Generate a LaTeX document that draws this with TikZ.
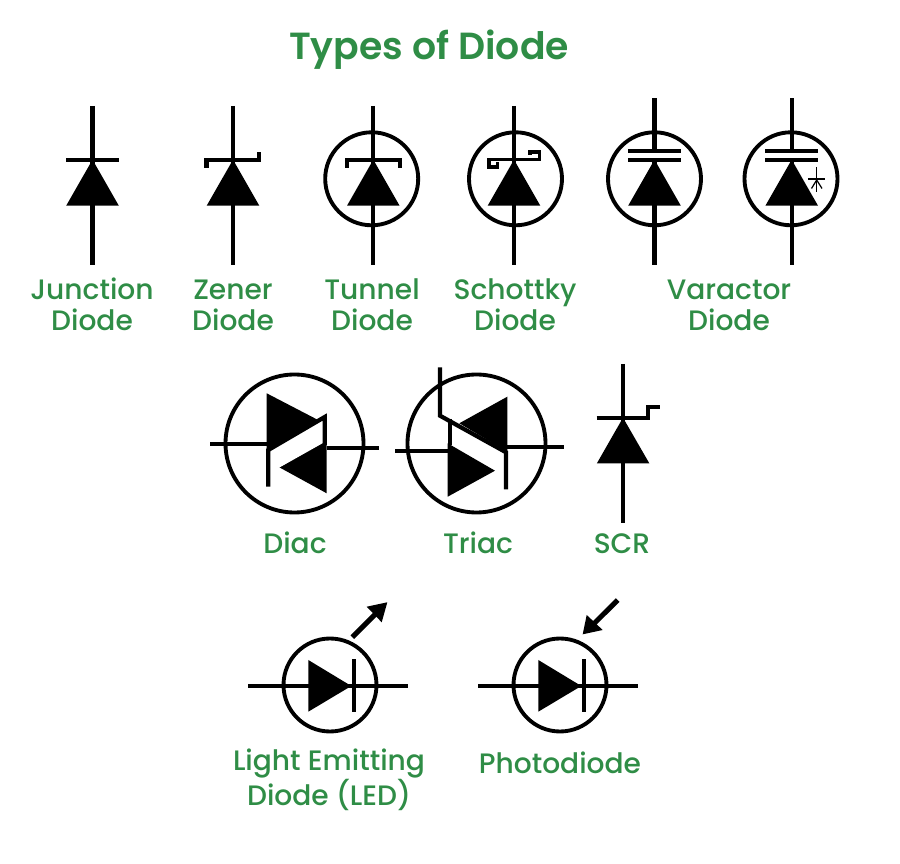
\documentclass[tikz,border=0pt]{standalone}
\usepackage{fontspec}
\setmainfont{Poppins}
\newfontfamily\labelfont{Poppins Medium}
\newfontfamily\titlefont{Poppins SemiBold}
\definecolor{gfggreen}{HTML}{2F8D46}
\tikzset{
wire/.style={line width=2.4pt},
ring/.style={line width=2.2pt},
solid tri/.style={fill=black},
diode label/.style={text=gfggreen, font=\labelfont\fontsize{16pt}{18pt}\selectfont, align=center, anchor=base},
}
\begin{document}
\begin{tikzpicture}[x=0.02cm, y=-0.02cm]

                \useasboundingbox (0,0) rectangle (900,864);

                \node[text=gfggreen, font=\titlefont\fontsize{21.5pt}{24pt}\selectfont] (title) at (429,50) {Types of Diode};

                % stems and triangles of the upright diodes
                \foreach \x/\ytop in {92.5/106, 233/106, 373.3/106, 514/106, 654.5/98.5, 791.7/98.5}{
                    \draw[wire] (\x,\ytop) -- (\x,265);
                    \fill[solid tri] (\x-26.3,205.7) -- (\x,159.7) -- (\x+26.3,205.7) -- cycle;
                }
                % rings of the upright diodes
                \foreach \x in {371.7, 515.5, 654.5, 791}{
                    \draw[ring] (\x,178.8) circle (46.5);
                }

                % junction
                \draw[wire] (66,159.7) -- (119,159.7);
                % zener
                \draw[wire] (206.5,168) -- (206.5,159.7) -- (259,159.7) -- (259,151.7);
                % tunnel
                \draw[wire] (347,168) -- (347,159.7) -- (400,159.7) -- (400,168);
                % schottky
                \draw[wire, line width=1.9pt] (497.5,162.5) -- (497.5,167) -- (489,167) -- (489,159.7) -- (539.5,159.7) -- (539.5,152) -- (530,152) -- (530,155.5);
                % varactor
                \fill[white] (628,152.5) rectangle (681,158);
                \fill[white] (765,152.5) rectangle (818,158);
                \draw[wire] (628,150.7) -- (681,150.7);
                \draw[wire] (628,159.7) -- (681,159.7);
                \draw[wire] (765,150.7) -- (818,150.7);
                \draw[wire] (765,159.7) -- (818,159.7);
                \draw[line width=0.7pt] (808,179) -- (825,179);
                \draw[line width=0.7pt] (816.7,167) -- (816.7,191.7);
                \draw[line width=0.7pt] (811.5,188.5) -- (816.7,180) -- (822,188.5);

                % diac
                \draw[ring] (294.5,443.5) circle (69);
                \draw[wire] (210,444.3) -- (268,444.3);
                \draw[wire] (326.7,448) -- (379,448);
                \fill[solid tri] (266.7,393.3) -- (320,421) -- (266.7,450) -- cycle;
                \fill[solid tri] (326.7,440) -- (279.3,467.3) -- (326.7,493.3) -- cycle;
                \fill[white] (271,450) -- (325,418) -- (323,443) -- (275,470) -- cycle;
                \draw[wire] (268.3,486.7) -- (268.3,450) -- (324.7,417) -- (324.7,445);

                % triac
                \draw[ring] (476.5,443.5) circle (69);
                \draw[wire] (395,451) -- (449,451);
                \draw[wire] (507,447) -- (564,447);
                \fill[solid tri] (507.3,396.7) -- (459.3,423.3) -- (507.3,451.7) -- cycle;
                \fill[solid tri] (447.7,443.3) -- (495,470.7) -- (447.7,496.7) -- cycle;
                \draw[wire] (449.7,419) -- (449.7,445);
                \draw[wire] (440,367.3) -- (440,415.7) -- (506,452.3) -- (506,489.3);

                % scr
                \draw[wire] (623,364) -- (623,523.3);
                \fill[solid tri] (596.9,463.3) -- (623,417.7) -- (649.3,463.3) -- cycle;
                \draw[wire] (596.7,417.7) -- (648.3,417.7) -- (648.3,407.3) -- (660,407.3);

                % led and photodiode
                \foreach \x in {330, 560}{
                    \draw[ring] (\x,685) circle (46.5);
                    \draw[wire] (\x-81.7,686) -- (\x+78.3,686);
                    \fill[solid tri] (\x-21.7,660) -- (\x+21.3,686) -- (\x-21.7,711.7) -- cycle;
                    \draw[wire] (\x+24,659.3) -- (\x+24,712.3);
                }
                \draw[wire, line width=2.9pt] (352.3,637.3) -- (376,613.6);
                \fill[solid tri] (387.3,602.3) -- (366.7,606.7) -- (381.7,622.3) -- cycle;
                \draw[wire, line width=2.9pt] (617.7,600) -- (594,623.6);
                \fill[solid tri] (582.7,634.3) -- (586.7,615) -- (602.7,630) -- cycle;

                % labels
                \node[diode label] (junction) at (92,331) {Junction\\Diode};
                \node[diode label] (zener) at (233,331) {Zener\\Diode};
                \node[diode label] (tunnel) at (372,331) {Tunnel\\Diode};
                \node[diode label] (schottky) at (515,331) {Schottky\\Diode};
                \node[diode label] (varactor) at (729,331) {Varactor\\Diode};
                \node[diode label] (diac) at (295,554) {Diac};
                \node[diode label] (triac) at (478,554) {Triac};
                \node[diode label] (scr) at (622,554) {SCR};
                \node[diode label] (led) at (329,806) {Light Emitting\\Diode (LED)};
                \node[diode label] (photo) at (560,774) {Photodiode};

            \end{tikzpicture}
\end{document}
